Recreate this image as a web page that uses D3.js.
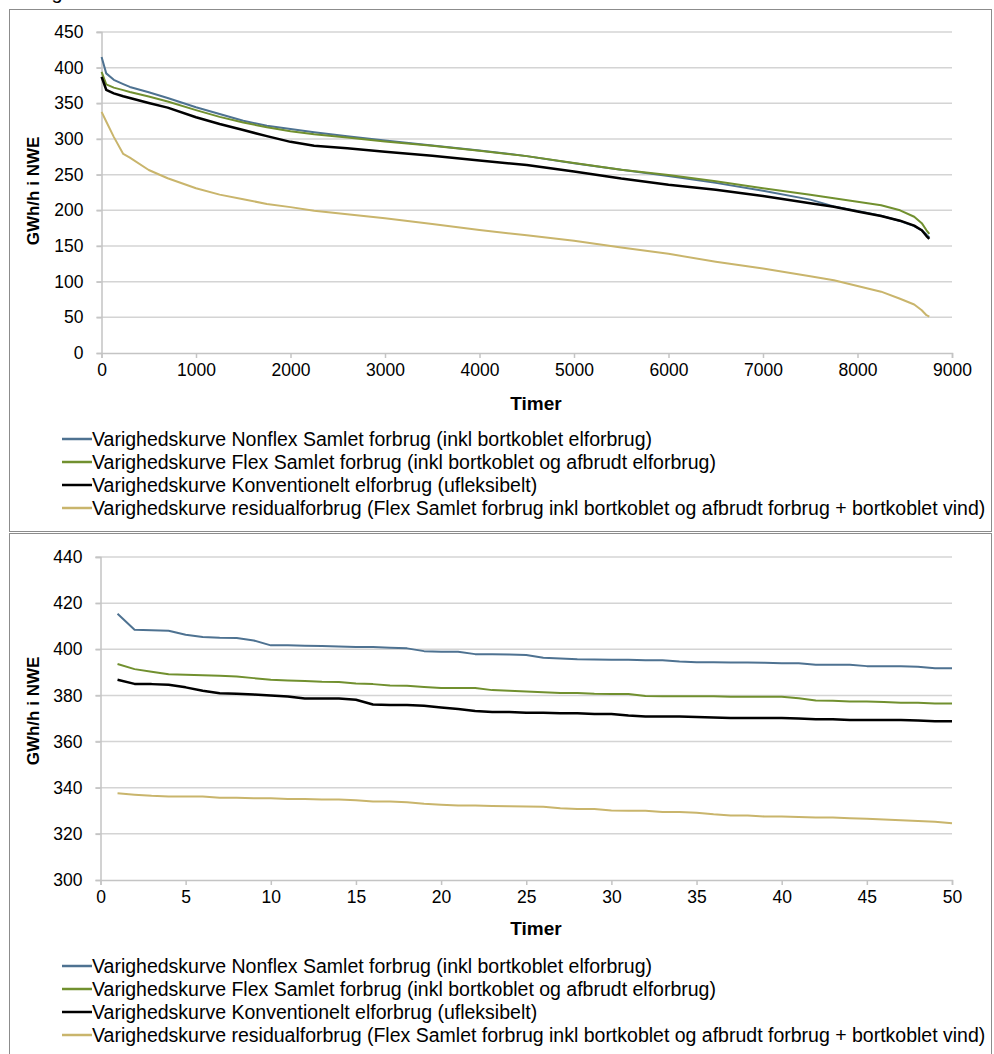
<!DOCTYPE html>
<html><head><meta charset="utf-8">
<script src="https://cdn.jsdelivr.net/npm/d3@7/dist/d3.min.js"></script>
<style>
body{margin:0;background:#fff}
text{font-family:"Liberation Sans",Arial,sans-serif;fill:#000}
</style>
</head><body>
<svg id="chart" width="994" height="1054"></svg>
<script>
// ---------- DATA ----------
const seriesNames = [
  "Varighedskurve Nonflex Samlet forbrug (inkl bortkoblet elforbrug)",
  "Varighedskurve Flex Samlet forbrug (inkl bortkoblet og afbrudt elforbrug)",
  "Varighedskurve Konventionelt elforbrug (ufleksibelt)",
  "Varighedskurve residualforbrug (Flex Samlet forbrug inkl bortkoblet og afbrudt forbrug + bortkoblet vind)"
];
const seriesColors = ["#4e7291", "#71902f", "#000000", "#c9b56c"];
const seriesWidths = [2, 2, 2.5, 2];

// Top chart: full year duration curves
const topHours = [1, 50, 130, 230, 300, 500, 700, 1000, 1250, 1500, 1750, 2000, 2250, 2600, 3000, 3500, 4000, 4500, 5000, 5500, 6000, 6500, 7000, 7500, 7750, 8000, 8250, 8450, 8600, 8680, 8730, 8760];
const topNonflex = [415, 392, 383, 377, 373, 365.5, 357.5, 344.5, 335, 325.5, 318.5, 314, 309.5, 304, 298, 291, 284, 276, 266, 257, 248, 238.5, 227.5, 215, 205.5, 199, 192.5, 185, 178, 172, 166, 162];
const topFlex    = [394, 376.5, 372, 368.5, 366, 359.5, 352.5, 340.5, 331, 323, 316.5, 311, 306.8, 302, 296.5, 290.5, 283.5, 276, 266.5, 257, 249.5, 240.7, 231, 222, 217, 212, 207, 200, 191, 182, 172, 167];
const topKonv    = [387, 369, 364, 360, 357.5, 350.5, 344, 330.5, 321, 312.5, 304, 296, 290.5, 287, 282, 276.5, 270, 263.5, 254.5, 244.5, 236, 229, 220, 210, 205, 198.5, 192, 185.5, 178.5, 172, 164, 160];
const topResid   = [338, 324.6, 303, 279, 274, 256.5, 245, 231, 222, 215.5, 209, 204.5, 199.5, 194.4, 189, 181, 172.5, 165, 157.5, 148, 139, 128, 118.5, 107.5, 102, 94, 86, 76, 68, 60, 53, 51];
const topYTicks = [0, 50, 100, 150, 200, 250, 300, 350, 400, 450];
const topXTicks = [0, 1000, 2000, 3000, 4000, 5000, 6000, 7000, 8000, 9000];

// Bottom chart: the 50 highest hours
const bottomHours = [1,2,3,4,5,6,7,8,9,10,11,12,13,14,15,16,17,18,19,20,21,22,23,24,25,26,27,28,29,30,31,32,33,34,35,36,37,38,39,40,41,42,43,44,45,46,47,48,49,50];
const botNonflex = [415.4,408.5,408.3,408,406.3,405.3,405,404.9,403.8,401.7,401.7,401.5,401.4,401.2,401,401,400.7,400.4,399.2,398.9,398.9,397.9,397.8,397.7,397.5,396.3,396,395.7,395.6,395.5,395.5,395.2,395.2,394.7,394.4,394.4,394.3,394.3,394.2,394,393.9,393.3,393.3,393.3,392.7,392.7,392.7,392.4,391.8,391.8];
const botFlex    = [393.6,391.4,390.3,389.2,389,388.8,388.5,388.2,387.5,386.8,386.5,386.2,385.9,385.8,385.2,384.9,384.3,384.2,383.7,383.2,383.2,383.2,382.3,382,381.7,381.4,381,381,380.7,380.6,380.6,379.8,379.6,379.6,379.6,379.6,379.4,379.4,379.4,379.4,378.8,377.8,377.7,377.4,377.4,377.1,376.8,376.8,376.5,376.5];
const botKonv    = [386.8,385,384.9,384.6,383.5,382,380.9,380.7,380.4,380,379.5,378.7,378.7,378.7,378.1,376.1,375.9,375.8,375.5,374.8,374.1,373.3,372.8,372.8,372.5,372.5,372.3,372.3,371.9,371.9,371.3,370.9,370.9,370.9,370.6,370.4,370.2,370.2,370.2,370.2,370,369.7,369.7,369.3,369.3,369.3,369.3,369.1,368.8,368.8];
const botResid   = [337.6,337,336.5,336.2,336.2,336.2,335.7,335.7,335.4,335.4,335.1,335.1,334.9,334.9,334.6,334,334,333.7,333,332.6,332.3,332.3,332.1,332,331.9,331.8,331.1,330.8,330.8,330.1,330,330,329.5,329.5,329.2,328.5,328,328,327.5,327.5,327.3,327.1,327.1,326.8,326.5,326.2,325.9,325.6,325.2,324.6];
const botYTicks = [300, 320, 340, 360, 380, 400, 420, 440];
const botXTicks = [0, 5, 10, 15, 20, 25, 30, 35, 40, 45, 50];

const yTitle = "GWh/h i NWE";
const xTitle = "Timer";

// ---------- DRAW ----------
const svg = d3.select("#chart");
svg.append("rect").attr("width", 994).attr("height", 1054).attr("fill", "#fff");

// cut-off title fragment at very top (only a descender shows in the reference)
svg.append("text").attr("x", 57).attr("y", -1).attr("text-anchor", "middle")
  .style("font-size", "20px").text("g");

function panel(cfg) {
  const g = svg.append("g");
  g.append("rect").attr("x", cfg.box[0]).attr("y", cfg.box[1])
    .attr("width", cfg.box[2]).attr("height", cfg.box[3])
    .attr("fill", "none").attr("stroke", "#8c8c8c").attr("stroke-width", 1);

  const x = d3.scaleLinear().domain(cfg.xDomain).range(cfg.xRange);
  const y = d3.scaleLinear().domain(cfg.yDomain).range(cfg.yRange);

  // gridlines
  g.append("g").selectAll("line").data(cfg.yTicks.filter(d => d !== cfg.yDomain[0])).join("line")
    .attr("x1", cfg.xRange[0] - 5).attr("x2", cfg.xRange[1])
    .attr("y1", d => y(d)).attr("y2", d => y(d))
    .attr("stroke", "#d4d4d4").attr("stroke-width", 1.5);

  // y axis
  const ya = g.append("g").attr("transform", `translate(${cfg.xRange[0]},0)`)
    .call(d3.axisLeft(y).tickValues(cfg.yTicks).tickSize(5).tickPadding(13).tickFormat(d3.format("d")));
  ya.select(".domain").attr("stroke", "#c4c4c4").attr("stroke-width", 1.5);
  ya.selectAll(".tick line").attr("stroke", "#c4c4c4").attr("stroke-width", 1.5);
  ya.selectAll(".tick text").style("font-size", "17.5px").style("font-family", "'Liberation Sans',Arial,sans-serif").attr("fill", "#000");

  // x axis
  const xa = g.append("g").attr("transform", `translate(0,${cfg.yRange[0]})`)
    .call(d3.axisBottom(x).tickValues(cfg.xTicks).tickSize(5).tickPadding(6).tickFormat(d3.format("d")));
  xa.select(".domain").attr("stroke", "#c4c4c4").attr("stroke-width", 1.5);
  xa.selectAll(".tick line").attr("stroke", "#c4c4c4").attr("stroke-width", 1.5);
  xa.selectAll(".tick text").style("font-size", "17.5px").style("font-family", "'Liberation Sans',Arial,sans-serif").attr("fill", "#000");

  // titles
  g.append("text").attr("x", cfg.xTitlePos[0]).attr("y", cfg.xTitlePos[1])
    .attr("text-anchor", "middle").style("font-size", "19px").style("font-weight", "bold").text(xTitle);
  g.append("text").attr("transform", `translate(${cfg.yTitlePos[0]},${cfg.yTitlePos[1]}) rotate(-90)`)
    .attr("text-anchor", "middle").style("font-size", "17px").style("font-weight", "bold").text(yTitle);

  // series
  const line = d3.line().x((d, i) => x(cfg.hours[i])).y(d => y(d));
  cfg.series.forEach((s, k) => {
    g.append("path").datum(s).attr("d", line).attr("fill", "none")
      .attr("stroke", seriesColors[k]).attr("stroke-width", seriesWidths[k])
      .attr("stroke-linejoin", "round");
  });

  // legend
  seriesNames.forEach((name, k) => {
    const ly = cfg.legendY + k * 23;
    g.append("line").attr("x1", 62).attr("x2", 92).attr("y1", ly).attr("y2", ly)
      .attr("stroke", seriesColors[k]).attr("stroke-width", 2.5);
    g.append("text").attr("x", 92).attr("y", ly + 7).style("font-size", "19.5px").text(name);
  });
}

panel({
  box: [9.5, 9.5, 982, 522],
  xDomain: [0, 9000], xRange: [101.5, 952],
  yDomain: [0, 450], yRange: [353, 32],
  yTicks: topYTicks, xTicks: topXTicks,
  hours: topHours,
  series: [topNonflex, topFlex, topKonv, topResid],
  xTitlePos: [536, 410], yTitlePos: [39, 191],
  legendY: 439
});

panel({
  box: [9.5, 533.5, 982, 530],
  xDomain: [0, 50], xRange: [100.5, 952],
  yDomain: [300, 440], yRange: [880, 557],
  yTicks: botYTicks, xTicks: botXTicks,
  hours: bottomHours,
  series: [botNonflex, botFlex, botKonv, botResid],
  xTitlePos: [536, 935], yTitlePos: [39, 711],
  legendY: 966
});
</script>
</body></html>
